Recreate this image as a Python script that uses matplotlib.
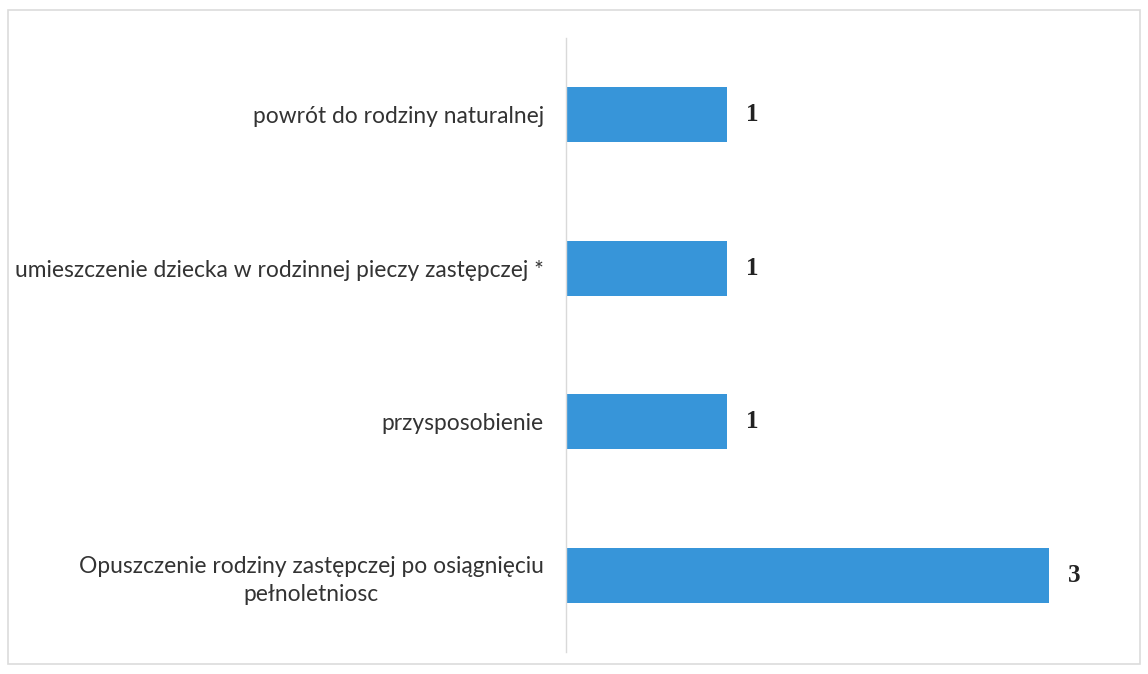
import matplotlib
matplotlib.use("Agg")
import matplotlib.pyplot as plt
from matplotlib.patches import Rectangle

# data (top to bottom)
categories = [
    "powrót do rodziny naturalnej",
    "umieszczenie dziecka w rodzinnej pieczy zastępczej *",
    "przysposobienie",
    "Opuszczenie rodziny zastępczej po osiągnięciu\npełnoletniosc",
]
values = [1, 1, 1, 3]

fig = plt.figure(figsize=(11.48, 6.74), dpi=100)
ax = fig.add_axes([566 / 1148, 22 / 674, (1130 - 566) / 1148, 614 / 674])

ypos = list(range(len(categories)))
ax.barh(ypos, values, height=0.36, color="#3795d9")

ax.set_xlim(0, (1130 - 566) / 161)
ax.set_ylim(len(categories) - 0.5, -0.5)
ax.set_yticks(ypos)
ax.set_yticklabels(categories, fontsize=16.4, color="#333333", family="Lato",
                   ha="right", multialignment="center", linespacing=1.4)
ax.tick_params(axis="y", length=0, pad=16)
ax.set_xticks([])

for y, v in zip(ypos, values):
    ax.text(v + 0.12, y, str(v), va="center", ha="left", fontsize=18,
            fontweight="bold", family="Liberation Serif", color="#222222")

for side in ["top", "right", "bottom"]:
    ax.spines[side].set_visible(False)
ax.spines["left"].set_color("#d9d9d9")
ax.spines["left"].set_linewidth(1)

# faint frame around the whole chart
fig.patches.append(Rectangle((8 / 1148, 10 / 674), 1132 / 1148, 654 / 674,
                             transform=fig.transFigure, fill=False,
                             edgecolor="#dcdcdc", linewidth=1.2))

fig.savefig("out.png", dpi=100)
